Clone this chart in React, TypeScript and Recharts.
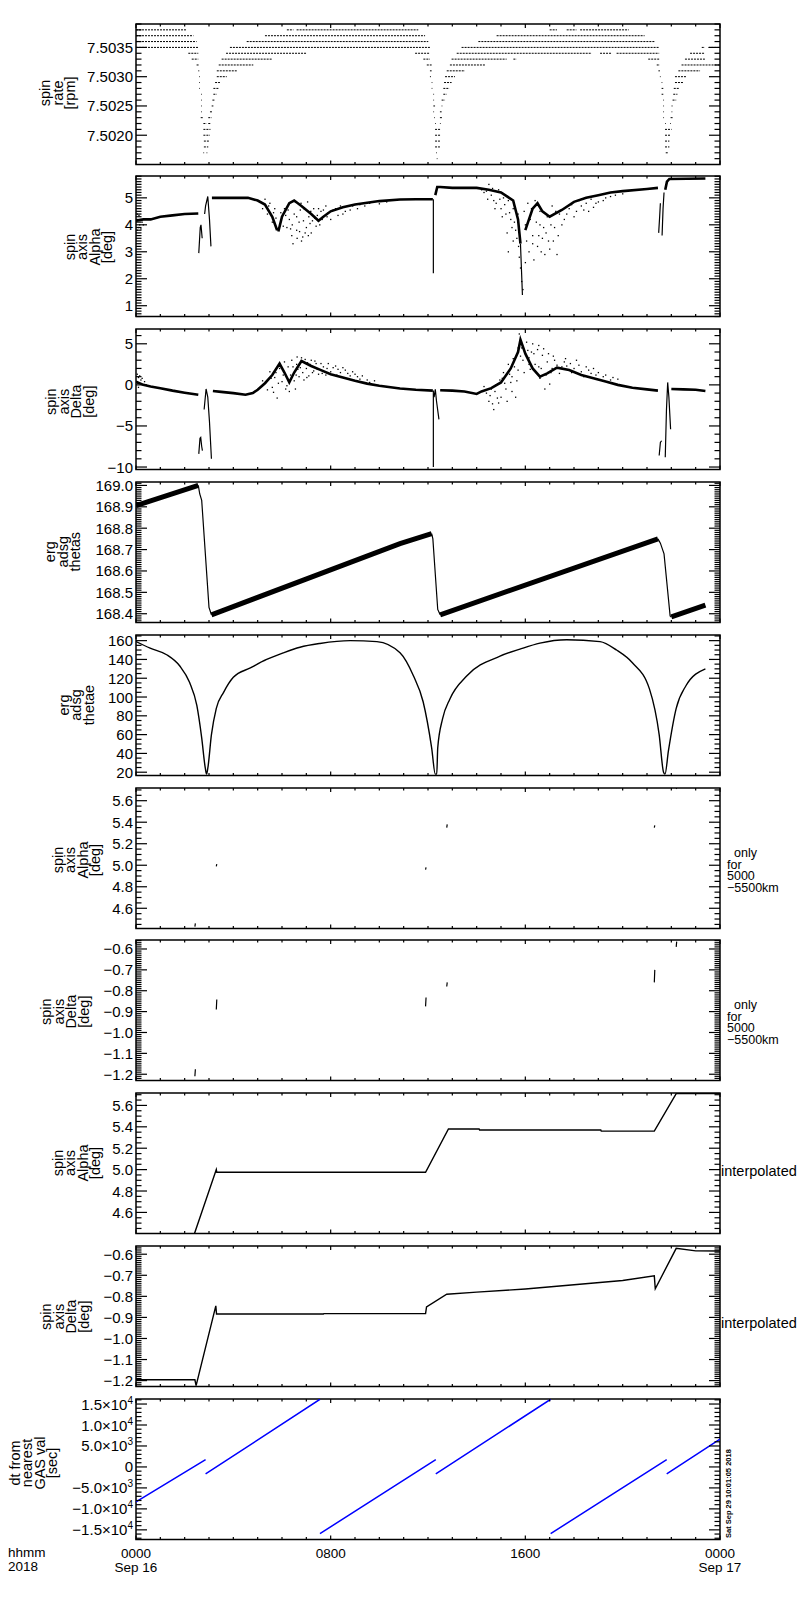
import React from 'react';
import { ComposedChart, Line, Scatter, XAxis, YAxis, ReferenceArea } from 'recharts';

// ---- layout ----
const PLOT_L = 136;
const PLOT_R = 720;
const PH = 140.5;
const PANEL_TOP0 = 23.5;
const PANEL_STEP = 152.8;
const FONT = '"Liberation Sans", Arial, sans-serif';

// ---- time axis (hours from 0000 Sep 16) ----
const hourTicks = [0, 1, 2, 3, 4, 5, 6, 7, 8, 9, 10, 11, 12, 13, 14, 15, 16, 17, 18, 19, 20, 21, 22, 23, 24];
const hourLabels: Record<number, string[]> = { 0: ['0000', 'Sep 16'], 8: ['0800'], 16: ['1600'], 24: ['0000', 'Sep 17'] };

// ---- spin rate [rpm]: quantised levels, [level, hStart, hEnd] ----
const spinRateSegs: [number, number, number][] = [
  [7.5038, 0, 2.08], [7.5038, 6.2, 6.47], [7.5038, 6.6, 11.6], [7.5038, 17.0, 17.3], [7.5038, 17.7, 18.1], [7.5038, 18.25, 20.25],
  [7.5037, 0, 2.36], [7.5037, 5.3, 11.88], [7.5037, 14.82, 20.9],
  [7.5036, 0, 2.49], [7.5036, 4.55, 12.01], [7.5036, 14.07, 21.33],
  [7.5035, 0, 2.56], [7.5035, 3.86, 12.08], [7.5035, 13.38, 21.5], [7.5035, 23.25, 23.38], [7.5035, 23.52, 24],
  [7.5034, 2.15, 2.56], [7.5034, 3.7, 7.0], [7.5034, 11.47, 12.08], [7.5034, 13.18, 18.73], [7.5034, 19.07, 19.55], [7.5034, 19.75, 21.5], [7.5034, 22.77, 23.38],
  [7.5033, 2.29, 2.56], [7.5033, 3.52, 5.58], [7.5033, 11.81, 12.08], [7.5033, 12.97, 15.23], [7.5033, 15.51, 15.64], [7.5033, 21.05, 21.5], [7.5033, 22.56, 23.38],
  [7.5032, 2.49, 2.6], [7.5032, 3.4, 4.82], [7.5032, 11.95, 12.15], [7.5032, 12.9, 14.34], [7.5032, 21.4, 21.53], [7.5032, 22.42, 24],
  [7.5031, 2.56, 2.6], [7.5031, 3.32, 4.14], [7.5031, 12.08, 12.15], [7.5031, 12.77, 13.52], [7.5031, 21.47, 21.53], [7.5031, 22.29, 23.18],
  [7.5030, 2.6, 2.63], [7.5030, 3.32, 3.73], [7.5030, 12.08, 12.12], [7.5030, 12.7, 13.11], [7.5030, 21.53, 21.56], [7.5030, 22.15, 22.63],
  [7.5029, 2.6, 2.63], [7.5029, 3.25, 3.45], [7.5029, 12.15, 12.18], [7.5029, 12.66, 12.97], [7.5029, 21.6, 21.63], [7.5029, 22.15, 22.49],
  [7.5028, 2.6, 2.63], [7.5028, 3.18, 3.4], [7.5028, 12.15, 12.18], [7.5028, 12.63, 12.88], [7.5028, 21.6, 21.67], [7.5028, 22.1, 22.33],
  [7.5027, 2.68, 2.7], [7.5027, 3.18, 3.32], [7.5027, 12.22, 12.25], [7.5027, 12.63, 12.77], [7.5027, 21.6, 21.67], [7.5027, 22.08, 22.25],
  [7.5026, 2.68, 2.7], [7.5026, 3.14, 3.25], [7.5026, 12.22, 12.25], [7.5026, 12.56, 12.7], [7.5026, 21.67, 21.7], [7.5026, 22.05, 22.2],
  [7.5025, 2.68, 2.7], [7.5025, 3.11, 3.18], [7.5025, 12.22, 12.29], [7.5025, 12.56, 12.59], [7.5025, 21.67, 21.7], [7.5025, 22.01, 22.05],
  [7.5024, 2.68, 2.7], [7.5024, 3.04, 3.14], [7.5024, 12.22, 12.25], [7.5024, 12.49, 12.56], [7.5024, 21.67, 21.7], [7.5024, 22.01, 22.04],
  [7.5023, 2.66, 2.77], [7.5023, 2.97, 3.11], [7.5023, 12.25, 12.28], [7.5023, 12.49, 12.6], [7.5023, 21.67, 21.7], [7.5023, 21.97, 22.08],
  [7.5022, 2.77, 2.9], [7.5022, 2.97, 3.06], [7.5022, 12.29, 12.31], [7.5022, 12.49, 12.52], [7.5022, 21.74, 21.77], [7.5022, 21.95, 21.98],
  [7.5021, 2.77, 3.06], [7.5021, 12.29, 12.52], [7.5021, 21.74, 22.01],
  [7.5020, 2.77, 3.04], [7.5020, 12.29, 12.52], [7.5020, 21.74, 21.95],
  [7.5019, 2.79, 3.0], [7.5019, 12.29, 12.49], [7.5019, 21.74, 21.92],
  [7.5018, 2.79, 2.97], [7.5018, 12.29, 12.49], [7.5018, 21.74, 21.92],
  [7.5017, 2.77, 2.79], [7.5017, 2.9, 2.92], [7.5017, 12.33, 12.36], [7.5017, 21.77, 21.88],
  [7.5016, 12.36, 12.39],
];

// ---- spin axis Alpha [deg] ----
const alphaBand: [number, number | null][] = [
  [0, 4.15], [0.3, 4.2], [0.6, 4.2], [1.0, 4.3], [1.5, 4.35], [2.0, 4.4], [2.56, 4.42], [2.56, null],
  [3.12, 5.0], [4.0, 5.0], [4.6, 5.0], [5.0, 4.9], [5.3, 4.75], [5.6, 4.3], [5.8, 3.8], [5.8, null],
  [5.85, 3.75], [6.0, 4.3], [6.3, 4.8], [6.5, 4.9], [6.8, 4.7], [7.2, 4.4], [7.5, 4.15], [7.7, 4.3], [8.0, 4.5], [8.5, 4.65],
  [9.0, 4.75], [9.5, 4.82], [10.0, 4.88], [10.85, 4.94], [11.5, 4.95], [12.2, 4.95], [12.2, null],
  [12.3, 5.1], [12.38, 5.4], [12.5, 5.4], [13.0, 5.37], [14.0, 5.37], [14.5, 5.3], [15.0, 5.2], [15.5, 4.9], [15.7, 4.2], [15.8, 3.3], [15.8, null],
  [16.0, 3.8], [16.3, 4.6], [16.5, 4.8], [16.7, 4.5], [17.0, 4.3], [17.5, 4.55], [18.0, 4.85], [18.5, 5.0], [19.0, 5.1],
  [19.5, 5.2], [20.0, 5.25], [21.0, 5.33], [21.45, 5.37], [21.45, null],
  [21.75, 5.3], [21.82, 5.6], [21.92, 5.7], [23.4, 5.72],
];
const alphaThin: [number, number | null][] = [
  [2.58, 2.95], [2.64, 3.9], [2.67, 4.0], [2.72, 3.5], [2.72, null],
  [2.82, 4.4], [2.86, 4.7], [2.95, 5.05], [3.02, 4.2], [3.08, 3.2], [3.08, null],
  [12.22, 4.95], [12.22, 2.2], [12.22, null],
  [15.8, 3.3], [15.86, 1.9], [15.88, 1.4], [15.88, null],
  [21.48, 3.7], [21.52, 4.3], [21.55, 4.8], [21.55, null],
  [21.62, 3.6], [21.66, 4.6], [21.7, 5.2],
];
const alphaCloud: [number, number][] = [
  [0.05, 3.8], [0.1, 3.9], [0.15, 4.0], [0.2, 3.85], [0.25, 4.1], [0.05, 4.4], [0.3, 4.0], [0.12, 4.35],
  [5.2, 4.6], [5.4, 4.4], [5.5, 4.8], [5.6, 4.1], [5.7, 4.6], [5.9, 4.0], [6.1, 4.6], [6.2, 3.9], [6.3, 4.2], [6.4, 3.6],
  [6.5, 4.4], [6.6, 3.8], [6.7, 4.1], [6.8, 3.4], [6.9, 4.6], [7.0, 3.9], [7.1, 4.3], [7.2, 3.7], [7.3, 4.6], [7.4, 3.95],
  [7.6, 4.5], [7.8, 4.7], [8.0, 4.2], [8.2, 4.6], [8.5, 4.4], [8.8, 4.55], [6.45, 3.3], [6.85, 3.55], [7.05, 4.85], [6.55, 4.85],
  [6.15, 4.35], [6.75, 4.55], [7.15, 4.05], [7.35, 4.25], [7.55, 4.0], [7.9, 4.45], [8.3, 4.35], [9.1, 4.6], [9.4, 4.7], [5.95, 4.45],
  [5.3, 4.95], [5.45, 4.7], [5.65, 4.45], [5.75, 4.25], [6.05, 3.95], [6.25, 4.55], [6.35, 3.85], [6.42, 4.0], [6.6, 4.3],
  [6.62, 3.5], [6.72, 3.75], [6.78, 4.8], [6.88, 4.15], [6.95, 3.7], [7.08, 3.6], [7.18, 4.5], [7.25, 4.15], [7.45, 4.35],
  [7.5, 4.6], [7.65, 4.2], [7.7, 4.55], [7.85, 4.3], [8.1, 4.55], [8.4, 4.7], [8.6, 4.5], [8.9, 4.7], [9.2, 4.75], [9.6, 4.8],
  [10.0, 4.78], [10.3, 4.85],
  [14.3, 5.2], [14.5, 5.5], [14.6, 5.1], [14.8, 4.8], [14.9, 5.3], [15.0, 4.6], [15.1, 5.0], [15.2, 4.4], [15.3, 4.9], [15.4, 4.2],
  [15.5, 4.6], [15.6, 3.8], [15.7, 4.4], [15.75, 2.8], [15.8, 2.4], [15.85, 1.9], [15.9, 1.6], [16.1, 4.8], [16.2, 4.2],
  [16.3, 3.6], [16.4, 4.9], [16.5, 3.2], [16.6, 4.0], [16.7, 3.5], [16.8, 2.9], [16.9, 4.3], [17.0, 3.1], [17.1, 4.7], [17.2, 3.9],
  [17.4, 4.4], [17.6, 4.2], [17.8, 4.6], [18.0, 4.3], [18.3, 4.7], [18.6, 4.5], [18.9, 4.8], [19.2, 4.9], [19.5, 5.05],
  [15.5, 3.4], [16.35, 2.7], [17.3, 2.9], [16.05, 3.4], [16.45, 4.1], [16.75, 3.9], [17.05, 4.0], [15.25, 3.7], [14.7, 4.9], [16.15, 3.0],
  [14.2, 5.3], [14.4, 5.25], [14.45, 4.95], [14.65, 5.35], [14.75, 4.6], [14.95, 4.95], [15.05, 4.3], [15.15, 4.75], [15.35, 4.45],
  [15.45, 3.9], [15.55, 4.1], [15.65, 3.5], [15.72, 3.2], [15.95, 4.5], [16.0, 4.0], [16.25, 4.6], [16.3, 3.3], [16.55, 3.6],
  [16.6, 4.5], [16.65, 3.0], [16.85, 3.7], [16.95, 3.4], [17.15, 3.4], [17.25, 4.5], [17.35, 3.6], [17.5, 4.0], [17.7, 4.4],
  [17.9, 4.75], [18.1, 4.5], [18.2, 4.9], [18.4, 4.55], [18.5, 4.8], [18.7, 4.95], [18.8, 4.65], [19.0, 4.85], [19.3, 5.0],
  [19.7, 5.1], [20.0, 5.15], [15.3, 3.0], [16.0, 2.6],
];

// ---- spin axis Delta [deg] ----
const deltaBand: [number, number | null][] = [
  [0, 0.4], [0.3, 0.0], [0.6, -0.2], [1.0, -0.4], [1.5, -0.7], [2.0, -0.95], [2.56, -1.2], [2.56, null],
  [3.16, -0.75], [3.5, -0.85], [4.0, -1.0], [4.5, -1.2], [4.8, -1.0], [5.0, -0.6], [5.3, 0.2], [5.6, 1.2], [5.9, 2.6],
  [6.1, 1.5], [6.3, 0.3], [6.5, 1.5], [6.8, 2.9], [7.2, 2.3], [7.6, 1.8], [8.0, 1.3], [8.5, 0.9], [9.0, 0.5], [9.5, 0.15],
  [10.0, -0.1], [10.85, -0.45], [11.5, -0.6], [12.2, -0.7], [12.2, null],
  [12.5, -0.65], [13.0, -0.7], [13.5, -0.8], [14.0, -1.1], [14.2, -0.8], [14.6, -0.4], [15.0, 0.3], [15.4, 2.0], [15.7, 4.0],
  [15.8, 5.5], [16.0, 3.8], [16.3, 2.0], [16.6, 1.0], [16.9, 1.4], [17.3, 2.1], [17.8, 1.8], [18.3, 1.2], [18.8, 0.8],
  [19.3, 0.4], [19.8, 0.0], [20.4, -0.35], [21.0, -0.55], [21.45, -0.7], [21.45, null],
  [22.0, -0.5], [22.5, -0.55], [23.0, -0.6], [23.4, -0.75],
];
const deltaThin: [number, number | null][] = [
  [2.58, -8.4], [2.63, -6.5], [2.66, -6.4], [2.7, -7.5], [2.73, -8.0], [2.73, null],
  [2.8, -3.0], [2.88, -0.5], [2.95, -1.5], [3.02, -4.5], [3.1, -9.0], [3.1, null],
  [12.22, -0.7], [12.22, -10.0], [12.22, null],
  [12.25, -1.5], [12.3, -0.55], [12.35, -2.0], [12.45, -4.2], [12.45, null],
  [21.5, -8.6], [21.55, -7.0], [21.6, -6.8], [21.6, null],
  [21.75, -8.8], [21.8, -3.0], [21.85, 0.3], [21.9, -1.5], [21.97, -5.4], [21.97, null],
];
const deltaCloud: [number, number][] = [
  [0.05, 1.3], [0.1, 0.9], [0.15, 1.1], [0.2, 0.6], [0.25, 0.8], [0.1, -0.3], [0.35, 0.4], [0.05, 0.2],
  [5.2, 0.5], [5.4, -0.6], [5.5, 1.6], [5.6, -0.3], [5.7, 0.9], [5.8, -1.6], [5.9, 2.0], [6.0, 0.4], [6.1, 2.8], [6.2, -0.1],
  [6.4, 3.0], [6.5, 0.5], [6.6, 2.5], [6.7, 1.0], [6.8, 3.3], [6.9, 0.6], [7.0, 2.0], [7.1, 1.1], [7.2, 3.0], [7.4, 2.6],
  [7.5, 1.3], [7.7, 2.2], [7.9, 2.6], [8.0, 1.6], [8.2, 2.3], [8.4, 1.5], [8.6, 1.8], [8.8, 1.1], [9.0, 1.3], [9.2, 0.7],
  [9.5, 0.6], [6.3, -0.8], [6.55, -0.5], [6.65, 1.9], [7.05, 2.7], [7.3, 1.7], [7.8, 1.2], [8.3, 1.9],
  [5.35, 0.3], [5.55, 0.8], [5.65, -0.9], [5.75, 1.5], [5.85, 0.2], [6.05, 1.2], [6.15, -0.5], [6.25, 2.2], [6.35, 1.2],
  [6.45, 2.2], [6.58, 1.2], [6.62, 3.4], [6.75, 2.1], [6.85, 1.5], [6.95, 3.1], [7.02, 0.9], [7.15, 2.5], [7.25, 1.5],
  [7.35, 2.9], [7.45, 1.9], [7.6, 2.6], [7.65, 1.4], [7.85, 2.0], [8.1, 2.1], [8.25, 1.2], [8.5, 2.1], [8.7, 1.4],
  [8.9, 1.6], [9.1, 1.0], [9.3, 1.1], [9.6, 0.3], [9.8, 0.5],
  [14.3, -0.2], [14.5, -2.0], [14.6, -0.5], [14.7, -3.0], [14.8, 0.0], [15.0, -1.5], [15.1, 1.5], [15.2, -0.5], [15.3, 2.5],
  [15.4, 0.3], [15.5, 3.2], [15.6, -1.5], [15.7, 1.8], [15.75, 6.2], [15.85, 4.5], [16.1, 4.2], [16.2, 1.9], [16.3, 5.0],
  [16.4, 2.5], [16.5, 4.3], [16.6, 0.8], [16.7, 3.6], [16.8, -0.5], [16.9, 2.8], [17.0, 0.1], [17.2, 3.0], [17.4, 1.4],
  [17.6, 2.8], [17.9, 1.5], [18.2, 2.4], [18.4, 1.0], [18.6, 1.8], [18.9, 1.2], [19.2, 1.0], [19.5, 0.6], [14.9, -2.2],
  [15.9, 3.0], [16.15, 3.3], [16.55, 2.2], [17.1, 2.0], [17.7, 2.3], [15.45, 1.0], [15.05, 0.8],
  [14.4, -1.0], [14.55, -1.3], [14.65, -2.3], [14.75, -0.8], [14.85, -1.6], [14.95, 0.6], [15.15, 0.2], [15.25, -2.0],
  [15.35, 1.3], [15.45, -0.8], [15.55, 2.2], [15.65, 0.5], [15.7, 4.5], [15.8, 3.5], [15.95, 1.5], [16.05, 5.2], [16.15, 2.5],
  [16.25, 4.0], [16.35, 3.8], [16.45, 1.5], [16.55, 4.8], [16.65, 2.0], [16.75, 4.4], [16.85, 1.2], [16.95, 3.8], [17.05, 1.5],
  [17.15, 3.5], [17.3, 2.4], [17.5, 2.2], [17.65, 3.2], [17.85, 2.6], [18.0, 2.0], [18.1, 3.0], [18.3, 1.6], [18.5, 2.2],
  [18.7, 1.4], [18.8, 2.0], [19.0, 1.5], [19.3, 1.2], [19.6, 0.9], [19.8, 0.7],
];

// ---- erg adsg thetas ----
const thetasBand: [number, number | null][] = [
  [0, 168.905], [2.56, 169.0], [2.56, null],
  [3.1, 168.395], [10.85, 168.728], [12.15, 168.775], [12.15, null],
  [12.5, 168.395], [21.45, 168.75], [21.45, null],
  [22.0, 168.385], [23.4, 168.44],
];
const thetasThin: [number, number | null][] = [
  [2.56, 169.0], [2.62, 168.96], [2.7, 168.93], [3.0, 168.43], [3.1, 168.395], [3.1, null],
  [12.15, 168.775], [12.2, 168.75], [12.4, 168.42], [12.5, 168.395], [12.5, null],
  [21.45, 168.75], [21.55, 168.73], [21.7, 168.68], [21.95, 168.39], [22.0, 168.385],
];

// ---- erg adsg thetae ----
const thetae: [number, number][] = [
  [0, 159], [0.58, 152], [1.26, 145], [1.8, 133], [2.2, 115.6], [2.5, 91], [2.7, 56.5], [2.85, 24], [2.9, 18],
  [2.95, 24], [3.1, 60], [3.3, 88], [3.6, 105], [4.0, 121], [4.7, 131], [5.37, 140], [6.05, 147], [6.74, 153], [7.56, 157],
  [8.8, 160], [9.9, 159], [10.85, 147], [11.4, 122.6], [11.8, 95], [12.15, 46], [12.3, 18], [12.36, 18], [12.4, 46],
  [12.6, 77], [12.9, 98], [13.6, 122.6], [14.96, 143.5], [15.78, 151], [16.6, 157.4], [17.7, 161], [19.07, 159],
  [19.75, 150], [20.4, 136.5], [21.1, 108.7], [21.5, 60], [21.68, 20], [21.74, 18], [21.88, 42.6], [22.2, 88],
  [22.6, 112], [23.4, 130],
];

// ---- only for 5000-5500km: short marks [h, v0, v1] ----
const alphaShortMarks: [number, number, number][] = [
  [2.42, 4.43, 4.46], [3.3, 4.99, 5.01], [11.9, 4.96, 4.98], [12.77, 5.35, 5.38], [21.3, 5.35, 5.37], [22.2, 5.71, 5.718],
];
const deltaShortMarks: [number, number, number][] = [
  [2.42, -1.21, -1.176], [3.3, -0.89, -0.842], [11.9, -0.875, -0.832], [12.77, -0.78, -0.76], [21.3, -0.76, -0.70], [22.2, -0.59, -0.565],
];

// ---- interpolated ----
const alphaInterp: [number, number][] = [
  [2.4, 4.40], [3.3, 5.0], [3.32, 4.975], [11.9, 4.975], [12.84, 5.38], [14.1, 5.38], [14.12, 5.37], [19.1, 5.37],
  [19.12, 5.36], [21.3, 5.36], [22.2, 5.71], [24, 5.71],
];
const deltaInterp: [number, number][] = [
  [0, -1.196], [2.42, -1.196], [2.47, -1.224], [3.28, -0.845], [3.31, -0.884], [7.7, -0.884], [7.72, -0.882],
  [11.9, -0.882], [11.94, -0.85], [12.77, -0.79], [14.0, -0.78], [16.0, -0.765], [18.0, -0.745], [20.0, -0.725],
  [21.3, -0.703], [21.34, -0.764], [22.2, -0.572], [23.0, -0.584], [24, -0.585],
];

// ---- dt from nearest GAS val [sec]: [h0, v0, h1, v1] ----
const dtSegs: [number, number, number, number][] = [
  [0, -8340, 2.86, 1730],
  [2.86, -1680, 7.56, 16140],
  [7.56, -15900, 12.32, 1730],
  [12.32, -1680, 17.04, 16140],
  [17.04, -15900, 21.81, 1730],
  [21.81, -1680, 24, 6660],
];

// ---- helpers ----
const range = (a: number, b: number, s: number) => {
  const out: number[] = [];
  const n = Math.round((b - a) / s);
  for (let i = 0; i <= n; i++) out.push(Math.round((a + i * s) * 1e6) / 1e6);
  return out;
};
const pts = (arr: [number, number | null][]) => arr.map(([h, v]) => ({ h, v }));
const segs = (arr: [number, number, number][]) =>
  arr.flatMap(([lv, a, b]) => [{ h: a, v: lv }, { h: Math.max(b, a + 0.03), v: lv }, { h: b, v: null }]);
const marks = (arr: [number, number, number][]) =>
  arr.flatMap(([h, a, b]) => [{ h, v: a }, { h: h + 0.02, v: b }, { h, v: null }]);
const minus = (s: string) => s.replace('-', '\u2212');

const sup = (m: string, e: string) => (
  <>
    {m}×10<tspan dy={-6} fontSize={10}>{e}</tspan>
  </>
);
const dtLabel = (v: number) => {
  if (v === 0) return <>0</>;
  const a = Math.abs(v);
  const s = v < 0 ? '\u2212' : '';
  if (a >= 10000) return sup(s + (a / 10000).toFixed(1), '4');
  return sup(s + (a / 1000).toFixed(1), '3');
};

type PanelProps = {
  idx: number;
  domain: [number, number];
  ticks: number[];
  majors: number[];
  fmt: (v: number) => React.ReactNode;
  last?: boolean;
  children?: React.ReactNode;
};

function Panel({ idx, domain, ticks, majors, fmt, last, children }: PanelProps) {
  const top = PANEL_TOP0 + idx * PANEL_STEP;
  const mt = 12;
  const mb = last ? 46 : 12;
  const yTop = mt;
  const yBot = mt + PH;
  const step = ticks.length > 1 ? Math.abs(ticks[1] - ticks[0]) : 1;
  const isMajor = (v: number) => majors.some((m) => Math.abs(m - v) < step * 1e-3);

  const YTick = (p: any) => {
    const v = p.payload.value;
    const y = p.y;
    const big = isMajor(v);
    const len = big ? 11 : 5.5;
    return (
      <g>
        <line x1={PLOT_L} x2={PLOT_L + len} y1={y} y2={y} stroke="#000" strokeWidth={1.2} />
        <line x1={PLOT_R - len} x2={PLOT_R} y1={y} y2={y} stroke="#000" strokeWidth={1.2} />
        {big && (
          <text x={PLOT_L - 3} y={y + 5.5} textAnchor="end" fontFamily={FONT} fontSize={15} fill="#000">
            {fmt(v)}
          </text>
        )}
      </g>
    );
  };

  const XTick = (p: any) => {
    const v = p.payload.value;
    const x = p.x;
    const big = v % 8 === 0;
    const len = big ? 4 : 2.5;
    const lab = hourLabels[v];
    return (
      <g>
        <line x1={x} x2={x} y1={yBot} y2={yBot - len} stroke="#000" strokeWidth={1.2} />
        <line x1={x} x2={x} y1={yTop} y2={yTop + len} stroke="#000" strokeWidth={1.2} />
        {last && lab && (
          <text x={x} y={yBot + 18} textAnchor="middle" fontFamily={FONT} fontSize={13.5} fill="#000">
            {lab.map((t, i) => (
              <tspan key={i} x={x} dy={i === 0 ? 0 : 14}>{t}</tspan>
            ))}
          </text>
        )}
      </g>
    );
  };

  // axes need a non-zero size to be drawn: 1px each, taken out of the margins
  return (
    <div style={{ position: 'absolute', left: 0, top: top - mt }}>
      <ComposedChart width={800} height={PH + mt + mb} margin={{ top: mt, right: 800 - PLOT_R, bottom: mb - 1, left: PLOT_L - 1 }}>
        <XAxis
          type="number"
          dataKey="h"
          domain={[0, 24]}
          ticks={hourTicks}
          interval={0}
          height={1}
          axisLine={false}
          tickLine={false}
          tick={XTick}
          allowDataOverflow
        />
        <YAxis
          type="number"
          dataKey="v"
          domain={domain}
          ticks={ticks}
          interval={0}
          width={1}
          axisLine={false}
          tickLine={false}
          tick={YTick}
          allowDataOverflow
        />
        <ReferenceArea x1={0} x2={24} y1={domain[0]} y2={domain[1]} fill="none" stroke="#000" strokeWidth={1.5} ifOverflow="extendDomain" />
        {children}
      </ComposedChart>
    </div>
  );
}

const dot = (p: any) => <rect x={p.cx - 0.6} y={p.cy - 0.6} width={1.3} height={1.3} fill="#000" />;

const titles: { lines: string[]; r: number; cy: number }[] = [
  { lines: ['spin', 'rate', '[rpm]'], r: 78, cy: 93 },
  { lines: ['spin', 'axis', 'Alpha', '[deg]'], r: 115, cy: 247 },
  { lines: ['spin', 'axis', 'Delta', '[deg]'], r: 96.7, cy: 401.7 },
  { lines: ['erg', 'adsg', 'thetas'], r: 83.3, cy: 551.7 },
  { lines: ['erg', 'adsg', 'thetae'], r: 96.7, cy: 705 },
  { lines: ['spin', 'axis', 'Alpha', '[deg]'], r: 103.3, cy: 860 },
  { lines: ['spin', 'axis', 'Delta', '[deg]'], r: 91.7, cy: 1011.7 },
  { lines: ['spin', 'axis', 'Alpha', '[deg]'], r: 103.3, cy: 1163 },
  { lines: ['spin', 'axis', 'Delta', '[deg]'], r: 91.7, cy: 1316.7 },
  { lines: ['dt from', 'nearest', 'GAS val', '[sec]'], r: 60, cy: 1463 },
];

function Overlay() {
  const t = { fontFamily: FONT, fontSize: 14.5, fill: '#000' } as const;
  const n = { fontFamily: FONT, fontSize: 12.5, fill: '#000' } as const;
  return (
    <svg width={800} height={1600} style={{ position: 'absolute', left: 0, top: 0, pointerEvents: 'none' }}>
      {titles.map((tt, k) => {
        const bx = tt.r - 3 - (tt.lines.length - 1) * 12.5;
        return (
          <text key={k} {...t} textAnchor="middle" transform={`translate(${bx},${tt.cy}) rotate(-90)`}>
            {tt.lines.map((ln, i) => (
              <tspan key={i} x={0} dy={i === 0 ? 0 : 12.5}>{ln}</tspan>
            ))}
          </text>
        );
      })}
      {[857, 1009].map((y0, k) => (
        <text key={k} {...n} x={727} y={y0}>
          <tspan x={734} dy={0}>only</tspan>
          <tspan x={727} dy={11.7}>for</tspan>
          <tspan x={727} dy={11.7}>5000</tspan>
          <tspan x={727} dy={11.7}>{'\u22125500km'}</tspan>
        </text>
      ))}
      <text {...t} x={721} y={1176}>interpolated</text>
      <text {...t} x={721} y={1328.3}>interpolated</text>
      <text fontFamily={FONT} fontSize={13.5} fill="#000" x={8} y={1557}>
        <tspan x={8} dy={0}>hhmm</tspan>
        <tspan x={8} dy={14}>2018</tspan>
      </text>
      <text fontFamily={FONT} fontSize={7.5} fontWeight="bold" fill="#000" transform="translate(731,1538) rotate(-90)">
        Sat Sep 29 10:01:05 2018
      </text>
    </svg>
  );
}

export default function App() {
  const thin = { stroke: '#000', strokeWidth: 1.2, dot: false, isAnimationActive: false, connectNulls: false } as const;
  return (
    <div style={{ position: 'absolute', left: 0, top: 0, width: 800, height: 1600, background: '#fff' }}>
      <Panel idx={0} domain={[7.5015, 7.5039]} ticks={range(7.5016, 7.5039, 0.0001)} majors={[7.502, 7.5025, 7.503, 7.5035]} fmt={(v) => v.toFixed(4)}>
        <Line data={segs(spinRateSegs)} dataKey="v" type="linear" {...thin} strokeWidth={1} strokeDasharray="2 1" />
      </Panel>
      <Panel idx={1} domain={[0.6, 5.81]} ticks={range(0.6, 5.8, 0.1)} majors={[1, 2, 3, 4, 5]} fmt={(v) => v.toFixed(0)}>
        <Scatter data={pts(alphaCloud)} dataKey="v" shape={dot} isAnimationActive={false} />
        <Line data={pts(alphaBand)} dataKey="v" type="linear" {...thin} strokeWidth={2.6} />
        <Line data={pts(alphaThin)} dataKey="v" type="linear" {...thin} />
      </Panel>
      <Panel idx={2} domain={[-10.3, 6.8]} ticks={range(-10, 6, 1)} majors={[-10, -5, 0, 5]} fmt={(v) => minus(v.toFixed(0))}>
        <Scatter data={pts(deltaCloud)} dataKey="v" shape={dot} isAnimationActive={false} />
        <Line data={pts(deltaBand)} dataKey="v" type="linear" {...thin} strokeWidth={2.6} />
        <Line data={pts(deltaThin)} dataKey="v" type="linear" {...thin} />
      </Panel>
      <Panel idx={3} domain={[168.359, 169.016]} ticks={range(168.36, 169.01, 0.01)} majors={range(168.4, 169.0, 0.1)} fmt={(v) => v.toFixed(1)}>
        <Line data={pts(thetasBand)} dataKey="v" type="linear" {...thin} strokeWidth={5} />
        <Line data={pts(thetasThin)} dataKey="v" type="linear" {...thin} />
      </Panel>
      <Panel idx={4} domain={[16.5, 166]} ticks={range(20, 165, 5)} majors={range(20, 160, 20)} fmt={(v) => v.toFixed(0)}>
        <Line data={pts(thetae)} dataKey="v" type="monotoneX" {...thin} strokeWidth={1.4} />
      </Panel>
      <Panel idx={5} domain={[4.412, 5.718]} ticks={range(4.45, 5.7, 0.05)} majors={range(4.6, 5.6, 0.2)} fmt={(v) => v.toFixed(1)}>
        <Line data={marks(alphaShortMarks)} dataKey="v" type="linear" {...thin} />
      </Panel>
      <Panel idx={6} domain={[-1.23, -0.557]} ticks={range(-1.22, -0.56, 0.01)} majors={range(-1.2, -0.6, 0.1)} fmt={(v) => minus(v.toFixed(1))}>
        <Line data={marks(deltaShortMarks)} dataKey="v" type="linear" {...thin} />
      </Panel>
      <Panel idx={7} domain={[4.403, 5.716]} ticks={range(4.45, 5.7, 0.05)} majors={range(4.6, 5.6, 0.2)} fmt={(v) => v.toFixed(1)}>
        <Line data={pts(alphaInterp)} dataKey="v" type="linear" {...thin} strokeWidth={1.4} />
      </Panel>
      <Panel idx={8} domain={[-1.228, -0.561]} ticks={range(-1.22, -0.57, 0.01)} majors={range(-1.2, -0.6, 0.1)} fmt={(v) => minus(v.toFixed(1))}>
        <Line data={pts(deltaInterp)} dataKey="v" type="linear" {...thin} strokeWidth={1.4} />
      </Panel>
      <Panel idx={9} last domain={[-17300, 16200]} ticks={range(-17000, 16000, 1000)} majors={range(-15000, 15000, 5000)} fmt={dtLabel}>
        <Line
          data={dtSegs.flatMap(([h0, v0, h1, v1]) => [{ h: h0, v: v0 }, { h: h1, v: v1 }, { h: h1, v: null }])}
          dataKey="v"
          type="linear"
          {...thin}
          stroke="#0000ff"
          strokeWidth={1.5}
        />
      </Panel>
      <Overlay />
    </div>
  );
}
